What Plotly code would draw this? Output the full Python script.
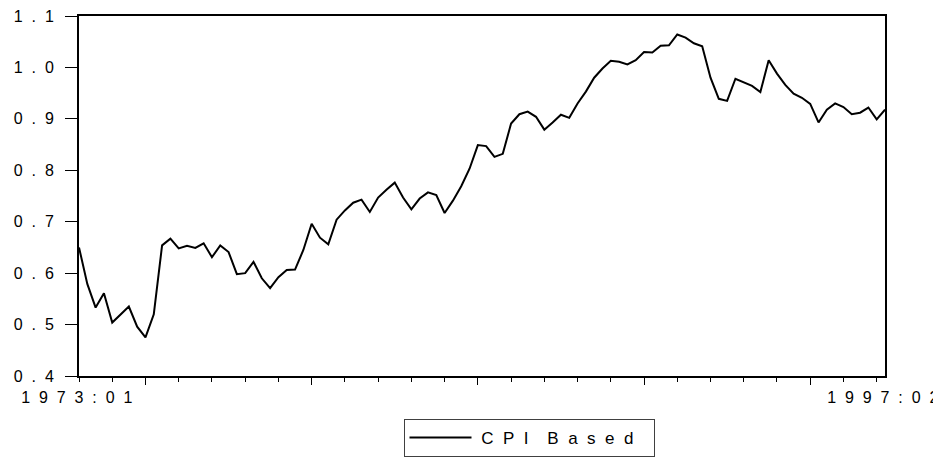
import plotly.graph_objects as go

# Quarterly periods 1973:01 .. 1997:02 (EViews style)
start_year = 1973
cpi_based = [
    0.650, 0.579, 0.533, 0.561, 0.504, 0.519, 0.535, 0.496, 0.475, 0.520,
    0.654, 0.667, 0.648, 0.653, 0.649, 0.658, 0.631, 0.654, 0.641, 0.598,
    0.600, 0.622, 0.590, 0.571, 0.592, 0.606, 0.607, 0.645, 0.696, 0.669,
    0.656, 0.704, 0.722, 0.737, 0.743, 0.719, 0.747, 0.762, 0.776, 0.747,
    0.724, 0.745, 0.757, 0.752, 0.717, 0.741, 0.769, 0.803, 0.849, 0.847,
    0.826, 0.832, 0.891, 0.909, 0.914, 0.904, 0.879, 0.893, 0.908, 0.902,
    0.930, 0.953, 0.980, 0.998, 1.013, 1.011, 1.006, 1.014, 1.030, 1.029,
    1.042, 1.043, 1.064, 1.058, 1.047, 1.041, 0.980, 0.939, 0.935, 0.978,
    0.971, 0.964, 0.952, 1.014, 0.988, 0.966, 0.949, 0.941, 0.929, 0.893,
    0.918, 0.930, 0.923, 0.909, 0.912, 0.922, 0.899, 0.918,
]
periods = [f"{start_year + i // 4}:{i % 4 + 1:02d}" for i in range(len(cpi_based))]
idx = list(range(len(cpi_based)))

y_ticks = [0.4, 0.5, 0.6, 0.7, 0.8, 0.9, 1.0, 1.1]
label_periods = ["1973:01", "1997:02"]
major_periods = ["1975:01", "1980:01", "1985:01", "1990:01", "1995:01"]
series_name = "CPI Based"

NB = "\u00a0"


def spaced(s, gap=2):
    out = []
    for word in s.split(" "):
        out.append((NB * gap).join(list(word)))
    return (NB * (gap * 2)).join(out)


FONT = "Liberation Sans, Arial, sans-serif"

x_label_vals = [periods.index(p) for p in label_periods]
x_major_vals = [periods.index(p) for p in major_periods]
x_minor_vals = [i for i, p in enumerate(periods) if p.endswith(":01")]

fig = go.Figure()
fig.add_trace(go.Scatter(
    x=idx, y=cpi_based, mode="lines",
    name=NB + spaced(series_name) + NB * 3,
    line=dict(color="black", width=2), showlegend=True,
))
# invisible companion trace so the major-tick axis is drawn
fig.add_trace(go.Scatter(
    x=idx, y=cpi_based, mode="lines", xaxis="x2", opacity=0,
    line=dict(width=0), showlegend=False, hoverinfo="skip",
))

fig.update_layout(
    width=941, height=457,
    margin=dict(l=71, r=64, t=8, b=89, autoexpand=False),
    paper_bgcolor="white", plot_bgcolor="white",
    font=dict(family=FONT, size=16, color="black"),
    showlegend=True,
    legend=dict(
        xref="container", yref="container",
        x=521 / 941, y=1 - 411 / 457, xanchor="center", yanchor="top",
        bordercolor="#404040", borderwidth=1, bgcolor="white",
        font=dict(family=FONT, size=17, color="black"),
        itemwidth=62,
    ),
    xaxis=dict(
        range=[0, len(cpi_based) - 1], automargin=False,
        showline=True, linewidth=2, linecolor="black", mirror=True,
        showgrid=False, zeroline=False,
        tickmode="array", tickvals=x_label_vals,
        ticktext=[spaced(p) + NB for p in label_periods],
        ticks="", ticklabelstandoff=6, ticklabeloverflow="allow",
        minor=dict(tickmode="array", tickvals=x_minor_vals, ticks="outside",
                   ticklen=4, tickwidth=1, tickcolor="black", showgrid=False),
        tickfont=dict(family=FONT, size=16, color="black"),
    ),
    xaxis2=dict(
        overlaying="x", anchor="y", side="bottom", automargin=False,
        range=[0, len(cpi_based) - 1],
        showline=False, showgrid=False, zeroline=False,
        tickmode="array", tickvals=x_major_vals, ticks="outside",
        ticklen=8, tickwidth=1, tickcolor="black", showticklabels=False,
    ),
    yaxis=dict(
        range=[0.4, 1.1], automargin=False,
        showline=True, linewidth=2, linecolor="black", mirror=True,
        showgrid=False, zeroline=False,
        tickmode="array", tickvals=y_ticks,
        ticktext=[spaced(f"{v:.1f}") for v in y_ticks],
        ticks="outside", ticklen=12, tickwidth=1, tickcolor="black",
        ticklabelstandoff=8, ticklabeloverflow="allow",
        tickfont=dict(family=FONT, size=16, color="black"),
    ),
)

fig.write_html("out.html")
